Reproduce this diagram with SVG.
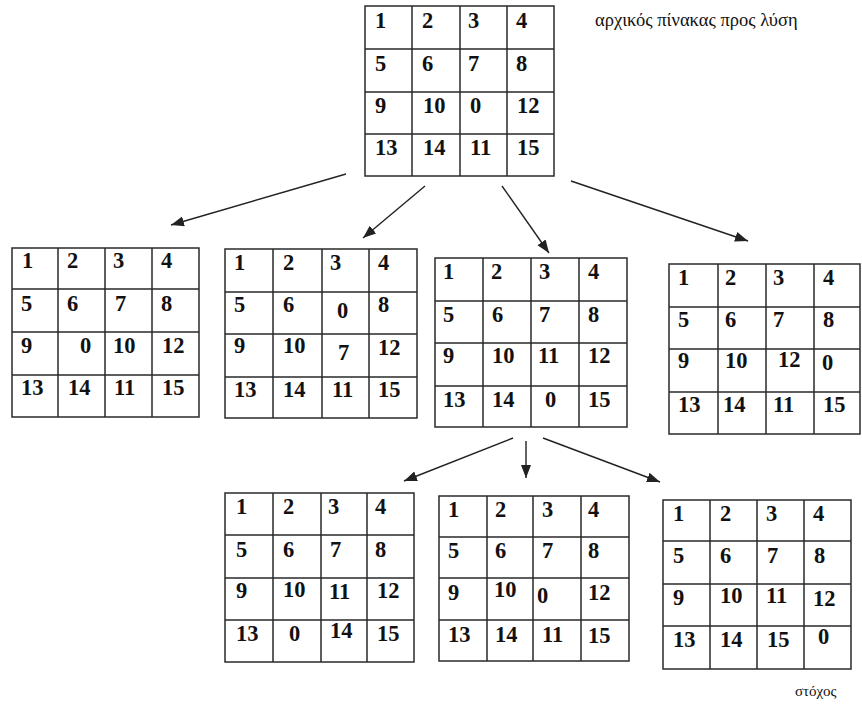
<svg xmlns="http://www.w3.org/2000/svg" width="862" height="707" viewBox="0 0 862 707">
  <style>
    .grid { fill: #ffffff; stroke: #2a2a2a; stroke-width: 1.5; }
    .line { fill: none; stroke: #2a2a2a; stroke-width: 1.5; }
    .n { font-family: "Liberation Serif", "Times New Roman", serif; font-weight: bold; font-size: 22.5px; fill: #111111; }
    .lbl { font-family: "Liberation Serif", "Times New Roman", serif; font-size: 18.5px; fill: #111111; }
    .arrow { fill: none; stroke: #222222; stroke-width: 1.4; marker-end: url(#head); }
  </style>
  <defs>
    <marker id="head" markerUnits="userSpaceOnUse" markerWidth="14" markerHeight="12" refX="13" refY="5" orient="auto">
      <path d="M0,0 L13,5 L0,10 Z" fill="#222222"/>
    </marker>
  </defs>
  <rect width="862" height="707" fill="#ffffff"/>

  <!-- connectors -->
  <g id="connectors">
    <line class="arrow" x1="346" y1="174" x2="171" y2="225"/>
    <line class="arrow" x1="425" y1="186" x2="363" y2="238"/>
    <line class="arrow" x1="502" y1="186" x2="549" y2="253"/>
    <line class="arrow" x1="571" y1="181" x2="748" y2="241"/>
    <line class="arrow" x1="513" y1="438" x2="404" y2="481"/>
    <line class="arrow" x1="526" y1="441" x2="526" y2="478"/>
    <line class="arrow" x1="543" y1="438" x2="660" y2="482"/>
  </g>

  <!-- initial board -->
  <g id="start">
    <rect class="grid" x="365" y="6" width="189" height="170"/>
    <path class="line" d="M412,6V176M460,6V176M507,6V176M365,49H554M365,92H554M365,134H554"/>
    <text class="n" x="375" y="28">1</text><text class="n" x="422" y="28">2</text><text class="n" x="468" y="28">3</text><text class="n" x="516" y="28">4</text>
    <text class="n" x="375" y="71">5</text><text class="n" x="422" y="71">6</text><text class="n" x="468" y="71">7</text><text class="n" x="516" y="71">8</text>
    <text class="n" x="375" y="113">9</text><text class="n" x="423" y="113">10</text><text class="n" x="470" y="113">0</text><text class="n" x="517" y="113">12</text>
    <text class="n" x="375" y="155">13</text><text class="n" x="423" y="155">14</text><text class="n" x="470" y="155">11</text><text class="n" x="517" y="155">15</text>
  </g>
  <text class="lbl" x="595" y="26">αρχικός πίνακας προς λύση</text>

  <!-- move left -->
  <g id="left">
    <rect class="grid" x="12" y="248" width="187" height="169"/>
    <path class="line" d="M58,248V417M105,248V417M152,248V417M12,289H199M12,332H199M12,375H199"/>
    <text class="n" x="22" y="268">1</text><text class="n" x="67" y="268">2</text><text class="n" x="113" y="268">3</text><text class="n" x="161" y="268">4</text>
    <text class="n" x="21" y="311">5</text><text class="n" x="67" y="311">6</text><text class="n" x="115" y="311">7</text><text class="n" x="161" y="311">8</text>
    <text class="n" x="21" y="353">9</text><text class="n" x="80" y="353">0</text><text class="n" x="113" y="353">10</text><text class="n" x="162" y="353">12</text>
    <text class="n" x="21" y="395">13</text><text class="n" x="68" y="395">14</text><text class="n" x="114" y="395">11</text><text class="n" x="162" y="395">15</text>
  </g>

  <!-- move up -->
  <g id="up">
    <rect class="grid" x="225" y="249" width="192" height="169"/>
    <path class="line" d="M273,249V418M322,249V418M369,249V418M225,292H417M225,334H417M225,377H417"/>
    <text class="n" x="234" y="270">1</text><text class="n" x="283" y="270">2</text><text class="n" x="330" y="270">3</text><text class="n" x="378" y="270">4</text>
    <text class="n" x="234" y="312">5</text><text class="n" x="283" y="312">6</text><text class="n" x="337" y="318">0</text><text class="n" x="378" y="312">8</text>
    <text class="n" x="234" y="353">9</text><text class="n" x="283" y="353">10</text><text class="n" x="338" y="360">7</text><text class="n" x="378" y="355">12</text>
    <text class="n" x="234" y="397">13</text><text class="n" x="283" y="397">14</text><text class="n" x="332" y="397">11</text><text class="n" x="378" y="397">15</text>
  </g>

  <!-- move down -->
  <g id="down">
    <rect class="grid" x="435" y="258" width="192" height="169"/>
    <path class="line" d="M483,258V427M531,258V427M579,258V427M435,301H627M435,343H627M435,386H627"/>
    <text class="n" x="443" y="279">1</text><text class="n" x="491" y="279">2</text><text class="n" x="539" y="279">3</text><text class="n" x="588" y="279">4</text>
    <text class="n" x="443" y="322">5</text><text class="n" x="492" y="322">6</text><text class="n" x="539" y="322">7</text><text class="n" x="588" y="322">8</text>
    <text class="n" x="443" y="363">9</text><text class="n" x="492" y="363">10</text><text class="n" x="538" y="363">11</text><text class="n" x="588" y="363">12</text>
    <text class="n" x="443" y="407">13</text><text class="n" x="492" y="407">14</text><text class="n" x="545" y="407">0</text><text class="n" x="588" y="407">15</text>
  </g>

  <!-- move right -->
  <g id="right">
    <rect class="grid" x="669" y="264" width="191" height="170"/>
    <path class="line" d="M718,264V434M766,264V434M814,264V434M669,307H860M669,349H860M669,392H860"/>
    <text class="n" x="678" y="285">1</text><text class="n" x="725" y="285">2</text><text class="n" x="773" y="285">3</text><text class="n" x="823" y="285">4</text>
    <text class="n" x="678" y="327">5</text><text class="n" x="725" y="327">6</text><text class="n" x="773" y="327">7</text><text class="n" x="823" y="327">8</text>
    <text class="n" x="678" y="368">9</text><text class="n" x="725" y="368">10</text><text class="n" x="778" y="367">12</text><text class="n" x="822" y="370">0</text>
    <text class="n" x="678" y="412">13</text><text class="n" x="723" y="412">14</text><text class="n" x="773" y="412">11</text><text class="n" x="823" y="412">15</text>
  </g>

  <!-- second level: left -->
  <g id="down-left">
    <rect class="grid" x="225" y="493" width="189" height="169"/>
    <path class="line" d="M273,493V662M321,493V662M367,493V662M225,535H414M225,578H414M225,620H414"/>
    <text class="n" x="236" y="514">1</text><text class="n" x="283" y="514">2</text><text class="n" x="328" y="514">3</text><text class="n" x="375" y="514">4</text>
    <text class="n" x="236" y="557">5</text><text class="n" x="283" y="557">6</text><text class="n" x="330" y="557">7</text><text class="n" x="375" y="557">8</text>
    <text class="n" x="236" y="598">9</text><text class="n" x="283" y="597">10</text><text class="n" x="329" y="599">11</text><text class="n" x="377" y="598">12</text>
    <text class="n" x="236" y="641">13</text><text class="n" x="289" y="641">0</text><text class="n" x="330" y="638">14</text><text class="n" x="377" y="641">15</text>
  </g>

  <!-- second level: up -->
  <g id="down-up">
    <rect class="grid" x="439" y="496" width="190" height="165"/>
    <path class="line" d="M487,496V661M533,496V661M581,496V661M439,537H629M439,578H629M439,620H629"/>
    <text class="n" x="448" y="517">1</text><text class="n" x="495" y="517">2</text><text class="n" x="542" y="517">3</text><text class="n" x="588" y="517">4</text>
    <text class="n" x="448" y="558">5</text><text class="n" x="495" y="558">6</text><text class="n" x="542" y="558">7</text><text class="n" x="588" y="558">8</text>
    <text class="n" x="448" y="600">9</text><text class="n" x="494" y="597">10</text><text class="n" x="537" y="603">0</text><text class="n" x="588" y="600">12</text>
    <text class="n" x="448" y="642">13</text><text class="n" x="495" y="642">14</text><text class="n" x="542" y="642">11</text><text class="n" x="588" y="643">15</text>
  </g>

  <!-- second level: right (goal) -->
  <g id="goal">
    <rect class="grid" x="663" y="500" width="188" height="169"/>
    <path class="line" d="M710,500V669M757,500V669M804,500V669M663,541H851M663,584H851M663,626H851"/>
    <text class="n" x="673" y="521">1</text><text class="n" x="720" y="521">2</text><text class="n" x="766" y="521">3</text><text class="n" x="813" y="521">4</text>
    <text class="n" x="673" y="563">5</text><text class="n" x="720" y="563">6</text><text class="n" x="767" y="563">7</text><text class="n" x="814" y="563">8</text>
    <text class="n" x="673" y="605">9</text><text class="n" x="720" y="603">10</text><text class="n" x="766" y="603">11</text><text class="n" x="813" y="606">12</text>
    <text class="n" x="673" y="647">13</text><text class="n" x="720" y="647">14</text><text class="n" x="767" y="647">15</text><text class="n" x="818" y="644">0</text>
  </g>
  <text class="lbl" x="795" y="696" style="font-size:15px">στόχος</text>
</svg>
